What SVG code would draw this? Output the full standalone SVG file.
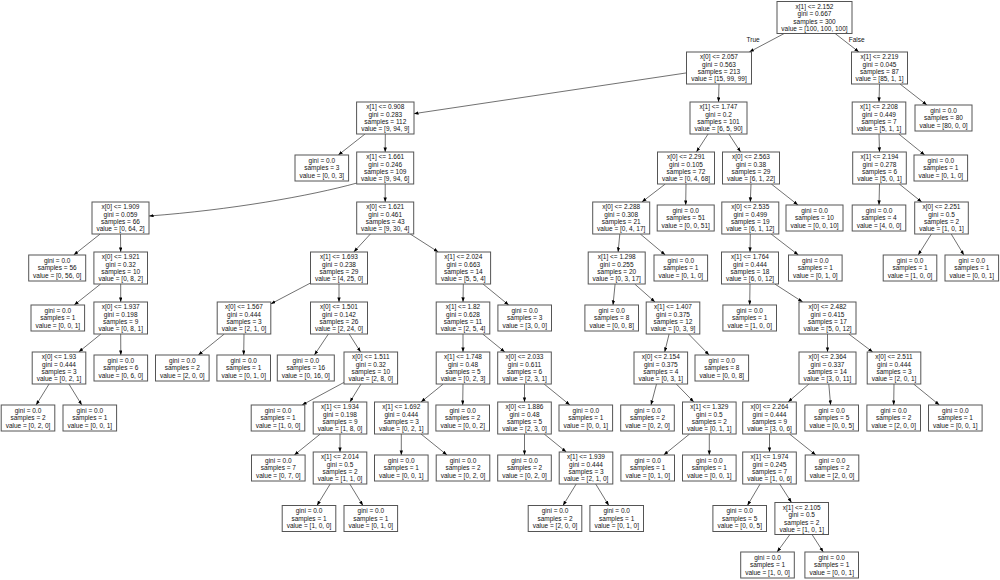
<svg xmlns="http://www.w3.org/2000/svg" width="1000" height="580" viewBox="0 0 1000 580">
<style>
.b{fill:#fff;stroke:#555;stroke-width:1}
.e{stroke:#111;stroke-width:0.6;fill:none;marker-end:url(#ah)}
text{font-family:"Liberation Sans",Arial,sans-serif;font-size:6.5px;fill:#111;text-anchor:middle}
.lbl{text-anchor:start}
</style>
<defs>
<marker id="ah" markerUnits="userSpaceOnUse" markerWidth="6" markerHeight="5" refX="4.6" refY="1.7" orient="auto"><path d="M0,0 L4.6,1.7 L0,3.4z" fill="#000"/></marker>
</defs>
<rect width="1000" height="580" fill="#fff"/>
<g id="connectors">
<line class="e" x1="784.2" y1="33.5" x2="749.3" y2="52"/>
<line class="e" x1="835.1" y1="33.5" x2="858.9" y2="52"/>
<line class="e" x1="686.5" y1="72.9" x2="413.9" y2="113.7"/>
<line class="e" x1="719" y1="84" x2="718.5" y2="102"/>
<line class="e" x1="879.5" y1="84" x2="879" y2="102"/>
<line class="e" x1="900" y1="84" x2="926.9" y2="105"/>
<line class="e" x1="365" y1="134" x2="338.3" y2="155"/>
<line class="e" x1="385.3" y1="134" x2="385.2" y2="152"/>
<line class="e" x1="708.1" y1="134" x2="696.4" y2="152"/>
<line class="e" x1="728.9" y1="134" x2="740.6" y2="152"/>
<line class="e" x1="879" y1="134" x2="879.5" y2="152"/>
<line class="e" x1="898.8" y1="134" x2="924.7" y2="155"/>
<path class="e" d="M357,183 C310,196 230,210 149,216"/>
<line class="e" x1="385.2" y1="184" x2="385.2" y2="202"/>
<line class="e" x1="665.3" y1="184" x2="641.9" y2="202"/>
<line class="e" x1="686" y1="184" x2="685.7" y2="205"/>
<line class="e" x1="751" y1="184" x2="750.3" y2="202"/>
<line class="e" x1="771.3" y1="184" x2="798" y2="205"/>
<line class="e" x1="879.5" y1="184" x2="879" y2="205"/>
<line class="e" x1="899.3" y1="184" x2="921.7" y2="202"/>
<line class="e" x1="100.2" y1="234" x2="73.7" y2="255"/>
<line class="e" x1="120.5" y1="234" x2="120.7" y2="252"/>
<line class="e" x1="370.4" y1="234" x2="353.8" y2="252"/>
<line class="e" x1="410.2" y1="234" x2="438.3" y2="252"/>
<line class="e" x1="619.8" y1="234" x2="618.1" y2="252"/>
<line class="e" x1="640.3" y1="234" x2="665.3" y2="255"/>
<line class="e" x1="750.3" y1="234" x2="750" y2="252"/>
<line class="e" x1="771.1" y1="234" x2="798.4" y2="255"/>
<line class="e" x1="931.4" y1="234" x2="918.2" y2="255"/>
<line class="e" x1="951.2" y1="234" x2="963.9" y2="255"/>
<line class="e" x1="100.6" y1="284" x2="74.2" y2="305"/>
<line class="e" x1="120.7" y1="284" x2="120.7" y2="302"/>
<line class="e" x1="310.5" y1="283" x2="270.8" y2="303.9"/>
<line class="e" x1="339" y1="284" x2="339" y2="302"/>
<line class="e" x1="463.3" y1="284" x2="463" y2="302"/>
<line class="e" x1="483" y1="284" x2="508.7" y2="305"/>
<line class="e" x1="615.1" y1="284" x2="613" y2="305"/>
<line class="e" x1="634.7" y1="284" x2="655" y2="302"/>
<line class="e" x1="750" y1="284" x2="749.7" y2="305"/>
<line class="e" x1="774.8" y1="284" x2="802.7" y2="302"/>
<line class="e" x1="100.9" y1="334" x2="78.7" y2="352"/>
<line class="e" x1="120.7" y1="334" x2="120.8" y2="355"/>
<line class="e" x1="224.3" y1="334" x2="198.3" y2="355"/>
<line class="e" x1="244" y1="334" x2="243.7" y2="355"/>
<line class="e" x1="328.4" y1="334" x2="314.4" y2="355"/>
<line class="e" x1="349.2" y1="334" x2="360.6" y2="352"/>
<line class="e" x1="463" y1="334" x2="463" y2="352"/>
<line class="e" x1="482.7" y1="334" x2="504.8" y2="352"/>
<line class="e" x1="669.1" y1="334" x2="664.7" y2="352"/>
<line class="e" x1="688.6" y1="334" x2="709.1" y2="355"/>
<line class="e" x1="827.5" y1="334" x2="827.5" y2="352"/>
<line class="e" x1="848.8" y1="334" x2="872.7" y2="352"/>
<line class="e" x1="49.1" y1="384" x2="36.1" y2="405"/>
<line class="e" x1="68.9" y1="384" x2="81.8" y2="405"/>
<line class="e" x1="344" y1="382.4" x2="302.1" y2="405"/>
<line class="e" x1="361" y1="384" x2="349.9" y2="402"/>
<line class="e" x1="443.3" y1="384" x2="421" y2="402"/>
<line class="e" x1="463" y1="384" x2="462.7" y2="405"/>
<line class="e" x1="524.5" y1="384" x2="524.5" y2="402"/>
<line class="e" x1="544.1" y1="384" x2="569.9" y2="405"/>
<line class="e" x1="656.5" y1="384" x2="651" y2="405"/>
<line class="e" x1="676.3" y1="384" x2="693.8" y2="402"/>
<line class="e" x1="808.9" y1="384" x2="788.1" y2="402"/>
<line class="e" x1="828.8" y1="384" x2="830.6" y2="405"/>
<line class="e" x1="894" y1="384" x2="893.7" y2="405"/>
<line class="e" x1="913.6" y1="384" x2="939.4" y2="405"/>
<line class="e" x1="320.3" y1="434" x2="294.3" y2="455"/>
<line class="e" x1="340" y1="434" x2="340" y2="452"/>
<line class="e" x1="401.3" y1="434" x2="401.3" y2="455"/>
<line class="e" x1="421" y1="434" x2="447" y2="455"/>
<line class="e" x1="524.5" y1="434" x2="524.5" y2="455"/>
<line class="e" x1="544.2" y1="434" x2="566.3" y2="452"/>
<line class="e" x1="689.6" y1="434" x2="663.7" y2="455"/>
<line class="e" x1="709.3" y1="434" x2="709.3" y2="455"/>
<line class="e" x1="769.5" y1="434" x2="769.5" y2="452"/>
<line class="e" x1="789.5" y1="434" x2="815.8" y2="455"/>
<line class="e" x1="330.2" y1="484" x2="317" y2="505.5"/>
<line class="e" x1="349.8" y1="484" x2="362.9" y2="505.5"/>
<line class="e" x1="576.2" y1="484" x2="563" y2="505.5"/>
<line class="e" x1="595.7" y1="484" x2="608.8" y2="505.5"/>
<line class="e" x1="760.1" y1="484" x2="747.4" y2="505.5"/>
<line class="e" x1="779.7" y1="484" x2="791.5" y2="502.5"/>
<line class="e" x1="789.9" y1="534.5" x2="777.1" y2="552"/>
<line class="e" x1="812" y1="534.5" x2="823.3" y2="552"/>
<text class="lbl" x="746.5" y="42">True</text>
<text class="lbl" x="848.7" y="42">False</text>
</g>
<g id="n0"><rect class="b" x="777" y="1.5" width="75" height="32"/><text x="814.5" y="8.7"><tspan x="814.5">x[1] &lt;= 2.152</tspan><tspan x="814.5" dy="7.4">gini = 0.667</tspan><tspan x="814.5" dy="7.4">samples = 300</tspan><tspan x="814.5" dy="7.4">value = [100, 100, 100]</tspan></text></g>
<g id="n1"><rect class="b" x="686.5" y="52" width="65" height="32"/><text x="719" y="59.2"><tspan x="719">x[0] &lt;= 2.057</tspan><tspan x="719" dy="7.4">gini = 0.563</tspan><tspan x="719" dy="7.4">samples = 213</tspan><tspan x="719" dy="7.4">value = [15, 99, 99]</tspan></text></g>
<g id="n1b"><rect class="b" x="851.5" y="52" width="56" height="32"/><text x="879.5" y="59.2"><tspan x="879.5">x[1] &lt;= 2.219</tspan><tspan x="879.5" dy="7.4">gini = 0.045</tspan><tspan x="879.5" dy="7.4">samples = 87</tspan><tspan x="879.5" dy="7.4">value = [85, 1, 1]</tspan></text></g>
<g id="n2"><rect class="b" x="356.6" y="102" width="57.4" height="32"/><text x="385.3" y="109.2"><tspan x="385.3">x[1] &lt;= 0.908</tspan><tspan x="385.3" dy="7.4">gini = 0.283</tspan><tspan x="385.3" dy="7.4">samples = 112</tspan><tspan x="385.3" dy="7.4">value = [9, 94, 9]</tspan></text></g>
<g id="n3"><rect class="b" x="690" y="102" width="57" height="32"/><text x="718.5" y="109.2"><tspan x="718.5">x[1] &lt;= 1.747</tspan><tspan x="718.5" dy="7.4">gini = 0.2</tspan><tspan x="718.5" dy="7.4">samples = 101</tspan><tspan x="718.5" dy="7.4">value = [6, 5, 90]</tspan></text></g>
<g id="n4"><rect class="b" x="852.2" y="102" width="53.6" height="32"/><text x="879" y="109.2"><tspan x="879">x[1] &lt;= 2.208</tspan><tspan x="879" dy="7.4">gini = 0.449</tspan><tspan x="879" dy="7.4">samples = 7</tspan><tspan x="879" dy="7.4">value = [5, 1, 1]</tspan></text></g>
<g id="n5"><rect class="b" x="915" y="105" width="57" height="26"/><text x="943.5" y="112.9"><tspan x="943.5">gini = 0.0</tspan><tspan x="943.5" dy="7.4">samples = 80</tspan><tspan x="943.5" dy="7.4">value = [80, 0, 0]</tspan></text></g>
<g id="n6"><rect class="b" x="295" y="155" width="53.6" height="26"/><text x="321.8" y="162.9"><tspan x="321.8">gini = 0.0</tspan><tspan x="321.8" dy="7.4">samples = 3</tspan><tspan x="321.8" dy="7.4">value = [0, 0, 3]</tspan></text></g>
<g id="n7"><rect class="b" x="356.7" y="152" width="57" height="32"/><text x="385.2" y="159.2"><tspan x="385.2">x[1] &lt;= 1.661</tspan><tspan x="385.2" dy="7.4">gini = 0.246</tspan><tspan x="385.2" dy="7.4">samples = 109</tspan><tspan x="385.2" dy="7.4">value = [9, 94, 6]</tspan></text></g>
<g id="n8"><rect class="b" x="657.5" y="152" width="57" height="32"/><text x="686" y="159.2"><tspan x="686">x[0] &lt;= 2.291</tspan><tspan x="686" dy="7.4">gini = 0.105</tspan><tspan x="686" dy="7.4">samples = 72</tspan><tspan x="686" dy="7.4">value = [0, 4, 68]</tspan></text></g>
<g id="n9"><rect class="b" x="722.5" y="152" width="57" height="32"/><text x="751" y="159.2"><tspan x="751">x[0] &lt;= 2.563</tspan><tspan x="751" dy="7.4">gini = 0.38</tspan><tspan x="751" dy="7.4">samples = 29</tspan><tspan x="751" dy="7.4">value = [6, 1, 22]</tspan></text></g>
<g id="n10"><rect class="b" x="852.7" y="152" width="53.6" height="32"/><text x="879.5" y="159.2"><tspan x="879.5">x[1] &lt;= 2.194</tspan><tspan x="879.5" dy="7.4">gini = 0.278</tspan><tspan x="879.5" dy="7.4">samples = 6</tspan><tspan x="879.5" dy="7.4">value = [5, 0, 1]</tspan></text></g>
<g id="n11"><rect class="b" x="914" y="155" width="53.6" height="26"/><text x="940.8" y="162.9"><tspan x="940.8">gini = 0.0</tspan><tspan x="940.8" dy="7.4">samples = 1</tspan><tspan x="940.8" dy="7.4">value = [0, 1, 0]</tspan></text></g>
<g id="n12"><rect class="b" x="92" y="202" width="57" height="32"/><text x="120.5" y="209.2"><tspan x="120.5">x[0] &lt;= 1.909</tspan><tspan x="120.5" dy="7.4">gini = 0.059</tspan><tspan x="120.5" dy="7.4">samples = 66</tspan><tspan x="120.5" dy="7.4">value = [0, 64, 2]</tspan></text></g>
<g id="n13"><rect class="b" x="356.7" y="202" width="57" height="32"/><text x="385.2" y="209.2"><tspan x="385.2">x[0] &lt;= 1.621</tspan><tspan x="385.2" dy="7.4">gini = 0.461</tspan><tspan x="385.2" dy="7.4">samples = 43</tspan><tspan x="385.2" dy="7.4">value = [9, 30, 4]</tspan></text></g>
<g id="n14"><rect class="b" x="592.7" y="202" width="57" height="32"/><text x="621.2" y="209.2"><tspan x="621.2">x[0] &lt;= 2.288</tspan><tspan x="621.2" dy="7.4">gini = 0.308</tspan><tspan x="621.2" dy="7.4">samples = 21</tspan><tspan x="621.2" dy="7.4">value = [0, 4, 17]</tspan></text></g>
<g id="n15"><rect class="b" x="657.2" y="205" width="57" height="26"/><text x="685.7" y="212.9"><tspan x="685.7">gini = 0.0</tspan><tspan x="685.7" dy="7.4">samples = 51</tspan><tspan x="685.7" dy="7.4">value = [0, 0, 51]</tspan></text></g>
<g id="n16"><rect class="b" x="721.8" y="202" width="57" height="32"/><text x="750.3" y="209.2"><tspan x="750.3">x[0] &lt;= 2.535</tspan><tspan x="750.3" dy="7.4">gini = 0.499</tspan><tspan x="750.3" dy="7.4">samples = 19</tspan><tspan x="750.3" dy="7.4">value = [6, 1, 12]</tspan></text></g>
<g id="n17"><rect class="b" x="786" y="205" width="57" height="26"/><text x="814.5" y="212.9"><tspan x="814.5">gini = 0.0</tspan><tspan x="814.5" dy="7.4">samples = 10</tspan><tspan x="814.5" dy="7.4">value = [0, 0, 10]</tspan></text></g>
<g id="n18"><rect class="b" x="852.2" y="205" width="53.6" height="26"/><text x="879" y="212.9"><tspan x="879">gini = 0.0</tspan><tspan x="879" dy="7.4">samples = 4</tspan><tspan x="879" dy="7.4">value = [4, 0, 0]</tspan></text></g>
<g id="n19"><rect class="b" x="914.7" y="202" width="53.6" height="32"/><text x="941.5" y="209.2"><tspan x="941.5">x[0] &lt;= 2.251</tspan><tspan x="941.5" dy="7.4">gini = 0.5</tspan><tspan x="941.5" dy="7.4">samples = 2</tspan><tspan x="941.5" dy="7.4">value = [1, 0, 1]</tspan></text></g>
<g id="n20"><rect class="b" x="28.7" y="255" width="57" height="26"/><text x="57.2" y="262.9"><tspan x="57.2">gini = 0.0</tspan><tspan x="57.2" dy="7.4">samples = 56</tspan><tspan x="57.2" dy="7.4">value = [0, 56, 0]</tspan></text></g>
<g id="n21"><rect class="b" x="93.9" y="252" width="53.6" height="32"/><text x="120.7" y="259.2"><tspan x="120.7">x[0] &lt;= 1.921</tspan><tspan x="120.7" dy="7.4">gini = 0.32</tspan><tspan x="120.7" dy="7.4">samples = 10</tspan><tspan x="120.7" dy="7.4">value = [0, 8, 2]</tspan></text></g>
<g id="n22"><rect class="b" x="310.5" y="252" width="57" height="32"/><text x="339" y="259.2"><tspan x="339">x[1] &lt;= 1.693</tspan><tspan x="339" dy="7.4">gini = 0.238</tspan><tspan x="339" dy="7.4">samples = 29</tspan><tspan x="339" dy="7.4">value = [4, 25, 0]</tspan></text></g>
<g id="n23"><rect class="b" x="436" y="252" width="54.6" height="32"/><text x="463.3" y="259.2"><tspan x="463.3">x[1] &lt;= 2.024</tspan><tspan x="463.3" dy="7.4">gini = 0.663</tspan><tspan x="463.3" dy="7.4">samples = 14</tspan><tspan x="463.3" dy="7.4">value = [5, 5, 4]</tspan></text></g>
<g id="n24"><rect class="b" x="588.2" y="252" width="57" height="32"/><text x="616.7" y="259.2"><tspan x="616.7">x[1] &lt;= 1.298</tspan><tspan x="616.7" dy="7.4">gini = 0.255</tspan><tspan x="616.7" dy="7.4">samples = 20</tspan><tspan x="616.7" dy="7.4">value = [0, 3, 17]</tspan></text></g>
<g id="n25"><rect class="b" x="654" y="255" width="53.6" height="26"/><text x="680.8" y="262.9"><tspan x="680.8">gini = 0.0</tspan><tspan x="680.8" dy="7.4">samples = 1</tspan><tspan x="680.8" dy="7.4">value = [0, 1, 0]</tspan></text></g>
<g id="n26"><rect class="b" x="721.5" y="252" width="57" height="32"/><text x="750" y="259.2"><tspan x="750">x[1] &lt;= 1.764</tspan><tspan x="750" dy="7.4">gini = 0.444</tspan><tspan x="750" dy="7.4">samples = 18</tspan><tspan x="750" dy="7.4">value = [6, 0, 12]</tspan></text></g>
<g id="n27"><rect class="b" x="788.5" y="255" width="53.6" height="26"/><text x="815.3" y="262.9"><tspan x="815.3">gini = 0.0</tspan><tspan x="815.3" dy="7.4">samples = 1</tspan><tspan x="815.3" dy="7.4">value = [0, 1, 0]</tspan></text></g>
<g id="n28"><rect class="b" x="883.2" y="255" width="53.6" height="26"/><text x="910" y="262.9"><tspan x="910">gini = 0.0</tspan><tspan x="910" dy="7.4">samples = 1</tspan><tspan x="910" dy="7.4">value = [1, 0, 0]</tspan></text></g>
<g id="n29"><rect class="b" x="945" y="255" width="53.6" height="26"/><text x="971.8" y="262.9"><tspan x="971.8">gini = 0.0</tspan><tspan x="971.8" dy="7.4">samples = 1</tspan><tspan x="971.8" dy="7.4">value = [0, 0, 1]</tspan></text></g>
<g id="n30"><rect class="b" x="31" y="305" width="53.6" height="26"/><text x="57.8" y="312.9"><tspan x="57.8">gini = 0.0</tspan><tspan x="57.8" dy="7.4">samples = 1</tspan><tspan x="57.8" dy="7.4">value = [0, 0, 1]</tspan></text></g>
<g id="n31"><rect class="b" x="93.9" y="302" width="53.6" height="32"/><text x="120.7" y="309.2"><tspan x="120.7">x[0] &lt;= 1.937</tspan><tspan x="120.7" dy="7.4">gini = 0.198</tspan><tspan x="120.7" dy="7.4">samples = 9</tspan><tspan x="120.7" dy="7.4">value = [0, 8, 1]</tspan></text></g>
<g id="n32"><rect class="b" x="217.2" y="302" width="53.6" height="32"/><text x="244" y="309.2"><tspan x="244">x[0] &lt;= 1.567</tspan><tspan x="244" dy="7.4">gini = 0.444</tspan><tspan x="244" dy="7.4">samples = 3</tspan><tspan x="244" dy="7.4">value = [2, 1, 0]</tspan></text></g>
<g id="n33"><rect class="b" x="310.5" y="302" width="57" height="32"/><text x="339" y="309.2"><tspan x="339">x[0] &lt;= 1.501</tspan><tspan x="339" dy="7.4">gini = 0.142</tspan><tspan x="339" dy="7.4">samples = 26</tspan><tspan x="339" dy="7.4">value = [2, 24, 0]</tspan></text></g>
<g id="n34"><rect class="b" x="436.2" y="302" width="53.6" height="32"/><text x="463" y="309.2"><tspan x="463">x[1] &lt;= 1.82</tspan><tspan x="463" dy="7.4">gini = 0.628</tspan><tspan x="463" dy="7.4">samples = 11</tspan><tspan x="463" dy="7.4">value = [2, 5, 4]</tspan></text></g>
<g id="n35"><rect class="b" x="497.9" y="305" width="53.6" height="26"/><text x="524.7" y="312.9"><tspan x="524.7">gini = 0.0</tspan><tspan x="524.7" dy="7.4">samples = 3</tspan><tspan x="524.7" dy="7.4">value = [3, 0, 0]</tspan></text></g>
<g id="n36"><rect class="b" x="584.9" y="305" width="53.6" height="26"/><text x="611.7" y="312.9"><tspan x="611.7">gini = 0.0</tspan><tspan x="611.7" dy="7.4">samples = 8</tspan><tspan x="611.7" dy="7.4">value = [0, 0, 8]</tspan></text></g>
<g id="n37"><rect class="b" x="646.2" y="302" width="53.6" height="32"/><text x="673" y="309.2"><tspan x="673">x[1] &lt;= 1.407</tspan><tspan x="673" dy="7.4">gini = 0.375</tspan><tspan x="673" dy="7.4">samples = 12</tspan><tspan x="673" dy="7.4">value = [0, 3, 9]</tspan></text></g>
<g id="n38"><rect class="b" x="722.9" y="305" width="53.6" height="26"/><text x="749.7" y="312.9"><tspan x="749.7">gini = 0.0</tspan><tspan x="749.7" dy="7.4">samples = 1</tspan><tspan x="749.7" dy="7.4">value = [1, 0, 0]</tspan></text></g>
<g id="n39"><rect class="b" x="799" y="302" width="57" height="32"/><text x="827.5" y="309.2"><tspan x="827.5">x[0] &lt;= 2.482</tspan><tspan x="827.5" dy="7.4">gini = 0.415</tspan><tspan x="827.5" dy="7.4">samples = 17</tspan><tspan x="827.5" dy="7.4">value = [5, 0, 12]</tspan></text></g>
<g id="n40"><rect class="b" x="32.2" y="352" width="53.6" height="32"/><text x="59" y="359.2"><tspan x="59">x[0] &lt;= 1.93</tspan><tspan x="59" dy="7.4">gini = 0.444</tspan><tspan x="59" dy="7.4">samples = 3</tspan><tspan x="59" dy="7.4">value = [0, 2, 1]</tspan></text></g>
<g id="n41"><rect class="b" x="94" y="355" width="53.6" height="26"/><text x="120.8" y="362.9"><tspan x="120.8">gini = 0.0</tspan><tspan x="120.8" dy="7.4">samples = 6</tspan><tspan x="120.8" dy="7.4">value = [0, 6, 0]</tspan></text></g>
<g id="n42"><rect class="b" x="155.5" y="355" width="53.6" height="26"/><text x="182.3" y="362.9"><tspan x="182.3">gini = 0.0</tspan><tspan x="182.3" dy="7.4">samples = 2</tspan><tspan x="182.3" dy="7.4">value = [2, 0, 0]</tspan></text></g>
<g id="n43"><rect class="b" x="216.9" y="355" width="53.6" height="26"/><text x="243.7" y="362.9"><tspan x="243.7">gini = 0.0</tspan><tspan x="243.7" dy="7.4">samples = 1</tspan><tspan x="243.7" dy="7.4">value = [0, 1, 0]</tspan></text></g>
<g id="n44"><rect class="b" x="277.3" y="355" width="57" height="26"/><text x="305.8" y="362.9"><tspan x="305.8">gini = 0.0</tspan><tspan x="305.8" dy="7.4">samples = 16</tspan><tspan x="305.8" dy="7.4">value = [0, 16, 0]</tspan></text></g>
<g id="n45"><rect class="b" x="344" y="352" width="53.6" height="32"/><text x="370.8" y="359.2"><tspan x="370.8">x[0] &lt;= 1.511</tspan><tspan x="370.8" dy="7.4">gini = 0.32</tspan><tspan x="370.8" dy="7.4">samples = 10</tspan><tspan x="370.8" dy="7.4">value = [2, 8, 0]</tspan></text></g>
<g id="n46"><rect class="b" x="436.2" y="352" width="53.6" height="32"/><text x="463" y="359.2"><tspan x="463">x[1] &lt;= 1.748</tspan><tspan x="463" dy="7.4">gini = 0.48</tspan><tspan x="463" dy="7.4">samples = 5</tspan><tspan x="463" dy="7.4">value = [0, 2, 3]</tspan></text></g>
<g id="n47"><rect class="b" x="497.7" y="352" width="53.6" height="32"/><text x="524.5" y="359.2"><tspan x="524.5">x[0] &lt;= 2.033</tspan><tspan x="524.5" dy="7.4">gini = 0.611</tspan><tspan x="524.5" dy="7.4">samples = 6</tspan><tspan x="524.5" dy="7.4">value = [2, 3, 1]</tspan></text></g>
<g id="n48"><rect class="b" x="634" y="352" width="53.6" height="32"/><text x="660.8" y="359.2"><tspan x="660.8">x[0] &lt;= 2.154</tspan><tspan x="660.8" dy="7.4">gini = 0.375</tspan><tspan x="660.8" dy="7.4">samples = 4</tspan><tspan x="660.8" dy="7.4">value = [0, 3, 1]</tspan></text></g>
<g id="n49"><rect class="b" x="695" y="355" width="53.6" height="26"/><text x="721.8" y="362.9"><tspan x="721.8">gini = 0.0</tspan><tspan x="721.8" dy="7.4">samples = 8</tspan><tspan x="721.8" dy="7.4">value = [0, 0, 8]</tspan></text></g>
<g id="n50"><rect class="b" x="799" y="352" width="57" height="32"/><text x="827.5" y="359.2"><tspan x="827.5">x[0] &lt;= 2.364</tspan><tspan x="827.5" dy="7.4">gini = 0.337</tspan><tspan x="827.5" dy="7.4">samples = 14</tspan><tspan x="827.5" dy="7.4">value = [3, 0, 11]</tspan></text></g>
<g id="n51"><rect class="b" x="867.2" y="352" width="53.6" height="32"/><text x="894" y="359.2"><tspan x="894">x[0] &lt;= 2.511</tspan><tspan x="894" dy="7.4">gini = 0.444</tspan><tspan x="894" dy="7.4">samples = 3</tspan><tspan x="894" dy="7.4">value = [2, 0, 1]</tspan></text></g>
<g id="n52"><rect class="b" x="1.2" y="405" width="53.6" height="26"/><text x="28" y="412.9"><tspan x="28">gini = 0.0</tspan><tspan x="28" dy="7.4">samples = 2</tspan><tspan x="28" dy="7.4">value = [0, 2, 0]</tspan></text></g>
<g id="n53"><rect class="b" x="63" y="405" width="53.6" height="26"/><text x="89.8" y="412.9"><tspan x="89.8">gini = 0.0</tspan><tspan x="89.8" dy="7.4">samples = 1</tspan><tspan x="89.8" dy="7.4">value = [0, 0, 1]</tspan></text></g>
<g id="n54"><rect class="b" x="251.2" y="405" width="53.6" height="26"/><text x="278" y="412.9"><tspan x="278">gini = 0.0</tspan><tspan x="278" dy="7.4">samples = 1</tspan><tspan x="278" dy="7.4">value = [1, 0, 0]</tspan></text></g>
<g id="n55"><rect class="b" x="313.2" y="402" width="53.6" height="32"/><text x="340" y="409.2"><tspan x="340">x[1] &lt;= 1.934</tspan><tspan x="340" dy="7.4">gini = 0.198</tspan><tspan x="340" dy="7.4">samples = 9</tspan><tspan x="340" dy="7.4">value = [1, 8, 0]</tspan></text></g>
<g id="n56"><rect class="b" x="374.5" y="402" width="53.6" height="32"/><text x="401.3" y="409.2"><tspan x="401.3">x[1] &lt;= 1.692</tspan><tspan x="401.3" dy="7.4">gini = 0.444</tspan><tspan x="401.3" dy="7.4">samples = 3</tspan><tspan x="401.3" dy="7.4">value = [0, 2, 1]</tspan></text></g>
<g id="n57"><rect class="b" x="435.9" y="405" width="53.6" height="26"/><text x="462.7" y="412.9"><tspan x="462.7">gini = 0.0</tspan><tspan x="462.7" dy="7.4">samples = 2</tspan><tspan x="462.7" dy="7.4">value = [0, 0, 2]</tspan></text></g>
<g id="n58"><rect class="b" x="497.7" y="402" width="53.6" height="32"/><text x="524.5" y="409.2"><tspan x="524.5">x[0] &lt;= 1.886</tspan><tspan x="524.5" dy="7.4">gini = 0.48</tspan><tspan x="524.5" dy="7.4">samples = 5</tspan><tspan x="524.5" dy="7.4">value = [2, 3, 0]</tspan></text></g>
<g id="n59"><rect class="b" x="559" y="405" width="53.6" height="26"/><text x="585.8" y="412.9"><tspan x="585.8">gini = 0.0</tspan><tspan x="585.8" dy="7.4">samples = 1</tspan><tspan x="585.8" dy="7.4">value = [0, 0, 1]</tspan></text></g>
<g id="n60"><rect class="b" x="620.7" y="405" width="53.6" height="26"/><text x="647.5" y="412.9"><tspan x="647.5">gini = 0.0</tspan><tspan x="647.5" dy="7.4">samples = 2</tspan><tspan x="647.5" dy="7.4">value = [0, 2, 0]</tspan></text></g>
<g id="n61"><rect class="b" x="682.5" y="402" width="53.6" height="32"/><text x="709.3" y="409.2"><tspan x="709.3">x[1] &lt;= 1.329</tspan><tspan x="709.3" dy="7.4">gini = 0.5</tspan><tspan x="709.3" dy="7.4">samples = 2</tspan><tspan x="709.3" dy="7.4">value = [0, 1, 1]</tspan></text></g>
<g id="n62"><rect class="b" x="742.7" y="402" width="53.6" height="32"/><text x="769.5" y="409.2"><tspan x="769.5">x[0] &lt;= 2.264</tspan><tspan x="769.5" dy="7.4">gini = 0.444</tspan><tspan x="769.5" dy="7.4">samples = 9</tspan><tspan x="769.5" dy="7.4">value = [3, 0, 6]</tspan></text></g>
<g id="n63"><rect class="b" x="804.9" y="405" width="53.6" height="26"/><text x="831.7" y="412.9"><tspan x="831.7">gini = 0.0</tspan><tspan x="831.7" dy="7.4">samples = 5</tspan><tspan x="831.7" dy="7.4">value = [0, 0, 5]</tspan></text></g>
<g id="n64"><rect class="b" x="866.9" y="405" width="53.6" height="26"/><text x="893.7" y="412.9"><tspan x="893.7">gini = 0.0</tspan><tspan x="893.7" dy="7.4">samples = 2</tspan><tspan x="893.7" dy="7.4">value = [2, 0, 0]</tspan></text></g>
<g id="n65"><rect class="b" x="928.5" y="405" width="53.6" height="26"/><text x="955.3" y="412.9"><tspan x="955.3">gini = 0.0</tspan><tspan x="955.3" dy="7.4">samples = 1</tspan><tspan x="955.3" dy="7.4">value = [0, 0, 1]</tspan></text></g>
<g id="n66"><rect class="b" x="251.5" y="455" width="53.6" height="26"/><text x="278.3" y="462.9"><tspan x="278.3">gini = 0.0</tspan><tspan x="278.3" dy="7.4">samples = 7</tspan><tspan x="278.3" dy="7.4">value = [0, 7, 0]</tspan></text></g>
<g id="n67"><rect class="b" x="313.2" y="452" width="53.6" height="32"/><text x="340" y="459.2"><tspan x="340">x[1] &lt;= 2.014</tspan><tspan x="340" dy="7.4">gini = 0.5</tspan><tspan x="340" dy="7.4">samples = 2</tspan><tspan x="340" dy="7.4">value = [1, 1, 0]</tspan></text></g>
<g id="n68"><rect class="b" x="374.5" y="455" width="53.6" height="26"/><text x="401.3" y="462.9"><tspan x="401.3">gini = 0.0</tspan><tspan x="401.3" dy="7.4">samples = 1</tspan><tspan x="401.3" dy="7.4">value = [0, 0, 1]</tspan></text></g>
<g id="n69"><rect class="b" x="436.2" y="455" width="53.6" height="26"/><text x="463" y="462.9"><tspan x="463">gini = 0.0</tspan><tspan x="463" dy="7.4">samples = 2</tspan><tspan x="463" dy="7.4">value = [0, 2, 0]</tspan></text></g>
<g id="n70"><rect class="b" x="497.7" y="455" width="53.6" height="26"/><text x="524.5" y="462.9"><tspan x="524.5">gini = 0.0</tspan><tspan x="524.5" dy="7.4">samples = 2</tspan><tspan x="524.5" dy="7.4">value = [0, 2, 0]</tspan></text></g>
<g id="n71"><rect class="b" x="559.2" y="452" width="53.6" height="32"/><text x="586" y="459.2"><tspan x="586">x[1] &lt;= 1.939</tspan><tspan x="586" dy="7.4">gini = 0.444</tspan><tspan x="586" dy="7.4">samples = 3</tspan><tspan x="586" dy="7.4">value = [2, 1, 0]</tspan></text></g>
<g id="n72"><rect class="b" x="620.9" y="455" width="53.6" height="26"/><text x="647.7" y="462.9"><tspan x="647.7">gini = 0.0</tspan><tspan x="647.7" dy="7.4">samples = 1</tspan><tspan x="647.7" dy="7.4">value = [0, 1, 0]</tspan></text></g>
<g id="n73"><rect class="b" x="682.5" y="455" width="53.6" height="26"/><text x="709.3" y="462.9"><tspan x="709.3">gini = 0.0</tspan><tspan x="709.3" dy="7.4">samples = 1</tspan><tspan x="709.3" dy="7.4">value = [0, 0, 1]</tspan></text></g>
<g id="n74"><rect class="b" x="742.7" y="452" width="53.6" height="32"/><text x="769.5" y="459.2"><tspan x="769.5">x[1] &lt;= 1.974</tspan><tspan x="769.5" dy="7.4">gini = 0.245</tspan><tspan x="769.5" dy="7.4">samples = 7</tspan><tspan x="769.5" dy="7.4">value = [1, 0, 6]</tspan></text></g>
<g id="n75"><rect class="b" x="805.2" y="455" width="53.6" height="26"/><text x="832" y="462.9"><tspan x="832">gini = 0.0</tspan><tspan x="832" dy="7.4">samples = 2</tspan><tspan x="832" dy="7.4">value = [2, 0, 0]</tspan></text></g>
<g id="n76"><rect class="b" x="282.2" y="505.5" width="53.6" height="26"/><text x="309" y="513.4"><tspan x="309">gini = 0.0</tspan><tspan x="309" dy="7.4">samples = 1</tspan><tspan x="309" dy="7.4">value = [1, 0, 0]</tspan></text></g>
<g id="n77"><rect class="b" x="344" y="505.5" width="53.6" height="26"/><text x="370.8" y="513.4"><tspan x="370.8">gini = 0.0</tspan><tspan x="370.8" dy="7.4">samples = 1</tspan><tspan x="370.8" dy="7.4">value = [0, 1, 0]</tspan></text></g>
<g id="n78"><rect class="b" x="528.2" y="505.5" width="53.6" height="26"/><text x="555" y="513.4"><tspan x="555">gini = 0.0</tspan><tspan x="555" dy="7.4">samples = 2</tspan><tspan x="555" dy="7.4">value = [2, 0, 0]</tspan></text></g>
<g id="n79"><rect class="b" x="589.9" y="505.5" width="53.6" height="26"/><text x="616.7" y="513.4"><tspan x="616.7">gini = 0.0</tspan><tspan x="616.7" dy="7.4">samples = 1</tspan><tspan x="616.7" dy="7.4">value = [0, 1, 0]</tspan></text></g>
<g id="n80"><rect class="b" x="712.9" y="505.5" width="53.6" height="26"/><text x="739.7" y="513.4"><tspan x="739.7">gini = 0.0</tspan><tspan x="739.7" dy="7.4">samples = 5</tspan><tspan x="739.7" dy="7.4">value = [0, 0, 5]</tspan></text></g>
<g id="n81"><rect class="b" x="774.9" y="502.5" width="53.6" height="32"/><text x="801.7" y="509.7"><tspan x="801.7">x[1] &lt;= 2.105</tspan><tspan x="801.7" dy="7.4">gini = 0.5</tspan><tspan x="801.7" dy="7.4">samples = 2</tspan><tspan x="801.7" dy="7.4">value = [1, 0, 1]</tspan></text></g>
<g id="n82"><rect class="b" x="740.7" y="552" width="53.6" height="26"/><text x="767.5" y="559.9"><tspan x="767.5">gini = 0.0</tspan><tspan x="767.5" dy="7.4">samples = 1</tspan><tspan x="767.5" dy="7.4">value = [1, 0, 0]</tspan></text></g>
<g id="n83"><rect class="b" x="804.9" y="552" width="53.6" height="26"/><text x="831.7" y="559.9"><tspan x="831.7">gini = 0.0</tspan><tspan x="831.7" dy="7.4">samples = 1</tspan><tspan x="831.7" dy="7.4">value = [0, 0, 1]</tspan></text></g>
</svg>
